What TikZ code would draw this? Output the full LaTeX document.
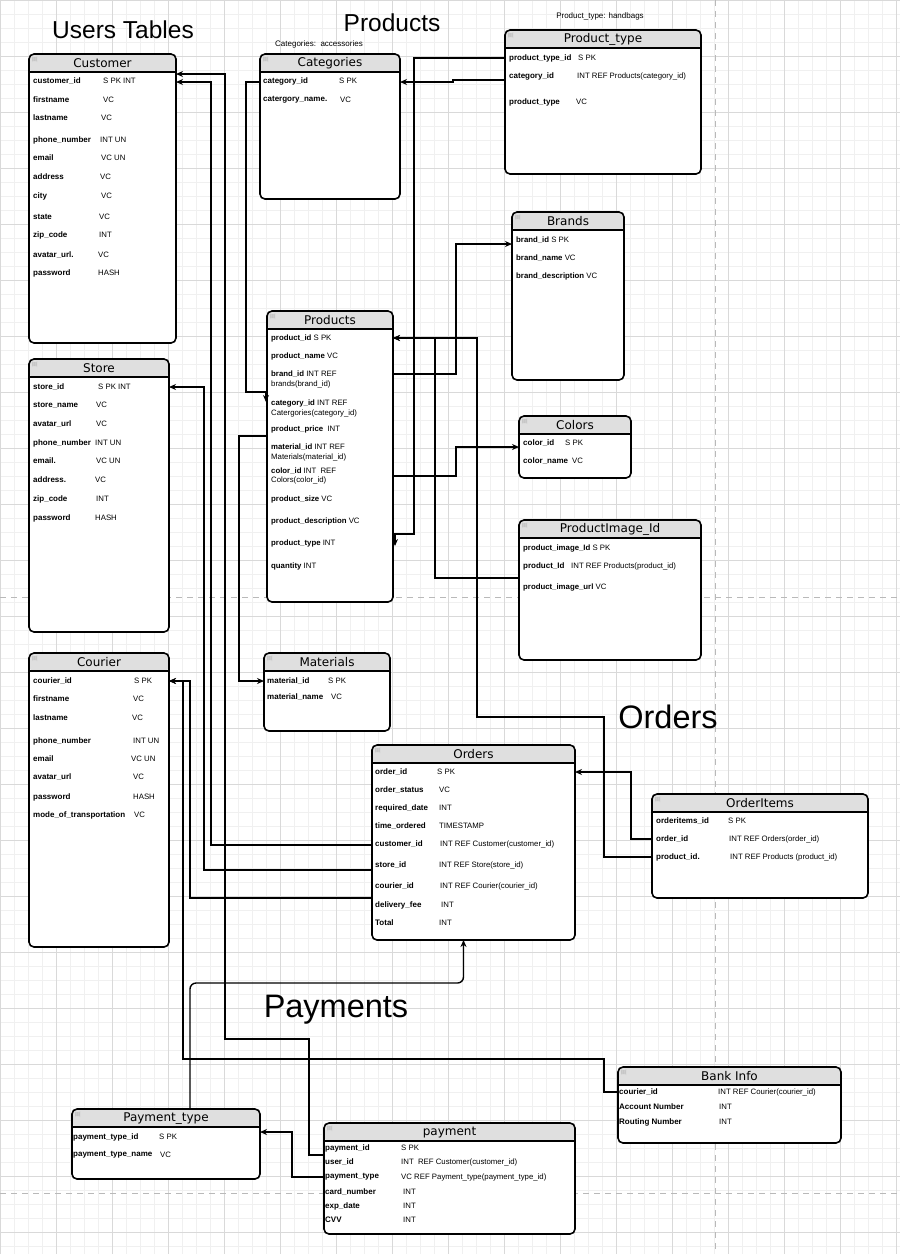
\documentclass[tikz,border=0pt]{standalone}
\usepackage{fontspec}
\setmainfont{Liberation Sans}
\newfontfamily\hdrfont{DejaVu Sans}
\usetikzlibrary{arrows.meta}

\newcommand{\fname}[1]{\textbf{#1}}
\newcommand{\ertable}[6]{%
  \node[tbl, minimum width=#4pt, minimum height=#5pt] (#1) at (#2,#3) {};
  \node[hdrtxt] (#1-title) at (#1.north) {#6};
}
\newcommand{\tblrows}[3]{%
  \foreach \nm/\tp/\yy/\tx [count=\i] in {#3} {
    \node[fld] (#1-\i) at (#2,\yy) {\nm};
    \node[typ] (#1-\i-t) at (\tx,\yy) {\tp};
  }
}
\newcommand{\tbllines}[3]{%
  \foreach \txt/\yy [count=\i] in {#3} {
    \node[typ] (#1-\i) at (#2,\yy) {\txt};
  }
}

\begin{document}
\begin{tikzpicture}[x=1pt, y=-1pt]
    \tikzstyle{minorgrid}=[gray!12, line width=0.6pt]
    \tikzstyle{majorgrid}=[gray!30, line width=0.8pt]
    \tikzstyle{pagebreak}=[gray!55, line width=1pt, dash pattern=on 6pt off 5pt]
    \tikzstyle{tbl}=[draw, line width=1.6pt, fill=white, rounded corners=5pt, anchor=north west, inner sep=0pt, outer sep=0pt,
        path picture={\fill[gray!25] (path picture bounding box.north west) rectangle ([yshift=-18pt]path picture bounding box.north east);
            \draw[line width=1.6pt] ([yshift=-18pt]path picture bounding box.north west) -- ([yshift=-18pt]path picture bounding box.north east);
            \fill[gray!45] ([xshift=3pt,yshift=-3pt]path picture bounding box.north west) rectangle ++(5pt,-4pt);}]
    \tikzstyle{hdrtxt}=[anchor=north, minimum height=18pt, inner sep=0pt, font=\hdrfont\fontsize{12}{12}\selectfont]
    \tikzstyle{fld}=[anchor=west, inner sep=0pt, font=\fontsize{8}{9}\selectfont\bfseries]
    \tikzstyle{typ}=[anchor=west, inner sep=0pt, font=\fontsize{7.8}{9}\selectfont]
    \tikzstyle{bigtitle}=[inner sep=0pt, font=\fontsize{24.5}{26}\selectfont]
    \tikzstyle{hugetitle}=[inner sep=0pt, font=\fontsize{32.5}{34}\selectfont]
    \tikzstyle{note}=[inner sep=0pt, font=\fontsize{8}{9}\selectfont]
    \tikzstyle{fk}=[line width=1.4pt, -{Stealth[length=7pt,width=6pt]}]

    \useasboundingbox (0,0) rectangle (900,1254);
    \fill[white] (0,0) rectangle (900,1254);
    \foreach \gx in {0,14,...,896} \draw[minorgrid] (\gx,0) -- (\gx,1254);
    \foreach \gy in {0,14,...,1246} \draw[minorgrid] (0,\gy) -- (900,\gy);
    \foreach \gx in {0,56,...,896} \draw[majorgrid] (\gx,0) -- (\gx,1254);
    \foreach \gy in {0,56,...,1232} \draw[majorgrid] (0,\gy) -- (900,\gy);
    \draw[pagebreak] (715,0) -- (715,1254);
    \draw[pagebreak] (0,597) -- (900,597);
    \draw[pagebreak] (0,1193) -- (900,1193);

    \node[bigtitle] (head-users) at (123,30) {Users Tables};
    \node[bigtitle] (head-products) at (392,23) {Products};
    \node[hugetitle] (head-orders) at (668,717) {Orders};
    \node[hugetitle] (head-payments) at (336,1010) {Payments};
    \node[note] (cat-note) at (319,44) {Categories:\ \ accessories};
    \node[note] (ptype-note) at (600,16) {Product\_type: handbags};

% users tables
    \ertable{cust}{29}{54}{147}{289}{Customer}
    \tblrows{cust}{33}{customer\_id/S PK INT/81/103, firstname/VC/100/103, lastname/VC/118/101, phone\_number/INT UN/140/100, email/VC UN/158/101, address/VC/177/100, city/VC/196/101, state/VC/217/99, zip\_code/INT/235/99, avatar\_url./VC/255/98, password/HASH/273/98}
    \ertable{store}{29}{359}{140}{273}{Store}
    \tblrows{store}{33}{store\_id/S PK INT/387/98, store\_name/VC/405/96, avatar\_url/VC/424/96, phone\_number/INT UN/443/95, email./VC UN/461/96, address./VC/480/95, zip\_code/INT/499/96, password/HASH/518/95}
    \ertable{cour}{29}{653}{140}{294}{Courier}
    \tblrows{cour}{33}{courier\_id/S PK/681/134, firstname/VC/699/133, lastname/VC/718/132, phone\_number/INT UN/741/133, email/VC UN/759/131, avatar\_url/VC/777/133, password/HASH/797/133, mode\_of\_transportation/VC/815/134}

% products tables
    \ertable{cat}{260}{54}{140}{145}{Categories}
    \tblrows{cat}{263}{category\_id/S PK/81/339, catergory\_name./VC/100/340}
    \ertable{ptype}{505}{30}{196}{144}{Product\_type}
    \tblrows{ptype}{509}{product\_type\_id/S PK/58/578, category\_id/INT REF Products(category\_id)/76/577, product\_type/VC/102/576}
    \ertable{brand}{512}{212}{112}{168}{Brands}
    \tbllines{brand}{516}{{\fname{brand\_id} S PK}/240, {\fname{brand\_name} VC}/258, {\fname{brand\_description} VC}/276}
    \ertable{col}{519}{416}{112}{62}{Colors}
    \tblrows{col}{523}{color\_id/S PK/443/565, color\_name/VC/461/572}
    \ertable{pimg}{519}{520}{182}{140}{ProductImage\_Id}
    \node[typ] (pimg-1) at (523,548) {\fname{product\_image\_Id} S PK};
    \node[fld] (pimg-2) at (523,566) {product\_Id};
    \node[typ] (pimg-2-t) at (571,566) {INT REF Products(product\_id)};
    \node[typ] (pimg-3) at (523,587) {\fname{product\_image\_url} VC};
    \ertable{prod}{267}{311}{126}{291}{Products}
    \tbllines{prod}{271}{{\fname{product\_id} S PK}/338, {\fname{product\_name} VC}/356, {\fname{brand\_id} INT REF}/374, brands(brand\_id)/384, {\fname{category\_id} INT REF}/403, Catergories(category\_id)/413, {\fname{product\_price}\ \ INT}/429, {\fname{material\_id} INT REF}/447, Materials(material\_id)/457, {\fname{color\_id} INT\ \ REF}/471, Colors(color\_id)/480, {\fname{product\_size} VC}/499, {\fname{product\_description} VC}/521, {\fname{product\_type} INT}/543, {\fname{quantity} INT}/566}
    \ertable{mat}{264}{653}{126}{78}{Materials}
    \tblrows{mat}{267}{material\_id/S PK/681/328, material\_name/VC/697/331}

% orders and payments tables
    \ertable{ord}{372}{745}{203}{195}{Orders}
    \tblrows{ord}{375}{order\_id/S PK/772/437, order\_status/VC/790/439, required\_date/INT/808/439, time\_ordered/TIMESTAMP/826/439, customer\_id/INT REF Customer(customer\_id)/844/440, store\_id/INT REF Store(store\_id)/865/439, courier\_id/INT REF Courier(courier\_id)/886/440, delivery\_fee/INT/905/441, Total/INT/923/439}
    \ertable{oi}{652}{794}{216}{104}{OrderItems}
    \tblrows{oi}{656}{orderitems\_id/S PK/821/728, order\_id/INT REF Orders(order\_id)/839/729, product\_id./INT REF Products (product\_id)/857/730}
    \ertable{pt}{72}{1109}{188}{70}{Payment\_type}
    \tblrows{pt}{73}{payment\_type\_id/S PK/1137/159, payment\_type\_name/VC/1155/160}
    \ertable{pay}{324}{1123}{251}{111}{payment}
    \tblrows{pay}{325}{payment\_id/S PK/1148/401, user\_id/INT\ \ REF Customer(customer\_id)/1162/401, payment\_type/VC REF Payment\_type(payment\_type\_id)/1177/401, card\_number/INT/1192/403, exp\_date/INT/1206/403, CVV/INT/1220/403}
    \ertable{bank}{618}{1067}{223}{76}{Bank Info}
    \tblrows{bank}{619}{courier\_id/INT REF Courier(courier\_id)/1092/718, Account Number/INT/1107/719, Routing Number/INT/1122/719}

% foreign keys
    \draw[fk] ([yshift=-4pt]ptype-2 -| ptype.west) -- ++(-52,0) |- ([yshift=-1pt]cat-1 -| cat.east);
    \draw[fk] (ptype-1 -| ptype.west) -- ++(-91,0) |- ([xshift=2pt,yshift=9pt]prod-14 -| prod.east) -- ++(0,12);
    \draw[fk] ([yshift=-1pt]cat-1 -| cat.west) -- ++(-14,0) |- ([xshift=-1pt,yshift=11pt]prod-5 -| prod.west) -- ++(0,10);
    \draw[fk] ([yshift=11pt]prod-8 -| prod.west) -- ++(-28,0) |- (mat-1 -| mat.west);
    \draw[fk] (prod-3 -| prod.east) -- ++(63,0) |- ([yshift=-4pt]brand-1 -| brand.west);
    \draw[fk] ([yshift=-5pt]prod-10 -| prod.east) -- ++(63,0) |- ([yshift=-4pt]col-1 -| col.west);
    \draw[fk] ([yshift=-12pt]pimg-2 -| pimg.west) -- ++(-84,0) |- (prod-1 -| prod.east);
    \draw[fk] (oi-3 -| oi.west) -- ++(-48,0) -- ++(0,-140) -- ++(-127,0) |- (prod-1 -| prod.east);
    \draw[fk] (oi-2 -| oi.west) -- ++(-21,0) |- (ord-1 -| ord.east);
    \draw[fk] ([yshift=-1pt]ord-5 -| ord.west) -- ++(-161,0) |- ([yshift=-1pt]cust-1 -| cust.east);
    \draw[fk] ([yshift=-5pt]ord-6 -| ord.west) -- ++(-168,0) |- (store-1 -| store.east);
    \draw[fk] ([yshift=-12pt]ord-7 -| ord.west) -- ++(-182,0) |- (cour-1 -| cour.east);
    \draw[fk] (bank-1 -| bank.west) -- ++(-14,0) -- ++(0,-33) -- ++(-421,0) |- (cour-1 -| cour.east);
    \draw[fk] ([yshift=-7pt]pay-1 -| pay.west) -- ++(-15,0) -- ++(0,-116) -- ++(-84,0) |- ([yshift=7pt]cust-1 -| cust.east);
    \draw[fk] (pay-3 -| pay.west) -- ++(-32,0) |- ([yshift=5pt]pt-1 -| pt.east);
    \draw[fk, rounded corners=6pt] ([xshift=24pt]pt.north) -- ++(0,-126) -| ([xshift=-10pt]ord.south);

\end{tikzpicture}
\end{document}
